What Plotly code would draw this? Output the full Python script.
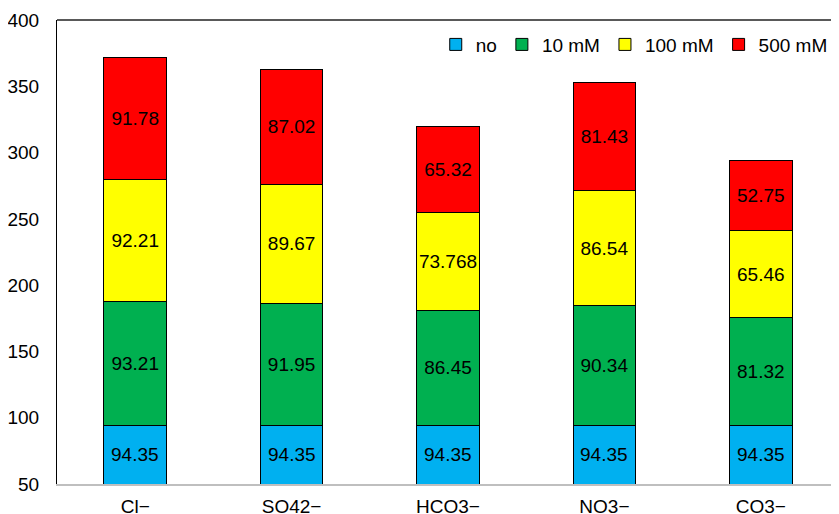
import plotly.graph_objects as go

categories = ["Cl−", "SO42−", "HCO3−", "NO3−", "CO3−"]
series_names = ["no", "10 mM", "100 mM", "500 mM"]
no_vals = [94.35, 94.35, 94.35, 94.35, 94.35]
mM10_vals = [93.21, 91.95, 86.45, 90.34, 81.32]
mM100_vals = [92.21, 89.67, 73.768, 86.54, 65.46]
mM500_vals = [91.78, 87.02, 65.32, 81.43, 52.75]
colors = ["#00B0F0", "#00B050", "#FFFF00", "#FF0000"]
y_ticks = [50, 100, 150, 200, 250, 300, 350, 400]
y_min, y_max = 50, 400

FONT = "Liberation Sans, Arial, sans-serif"
FS = 19

fig = go.Figure()
for i, (name, vals, col) in enumerate(zip(series_names, [no_vals, mM10_vals, mM100_vals, mM500_vals], colors)):
    fig.add_trace(go.Bar(
        x=categories, y=vals, name=name,
        marker=dict(color=col, line=dict(color="#000000", width=1)),
        text=[str(v) for v in vals],
        textposition="none" if i == 0 else "inside",
        insidetextanchor="middle", textangle=0,
        textfont=dict(family=FONT, size=FS, color="#000000"),
        constraintext="none",
    ))

# labels of the first segment, centred in its visible part (above the axis minimum)
for c, v in zip(categories, no_vals):
    fig.add_annotation(x=c, y=(y_min + v) / 2, text=str(v), showarrow=False,
                       font=dict(family=FONT, size=FS, color="#000000"))

# page body has an 8px margin; shrink the figure so the plot lands where the reference has it
fig.update_layout(
    barmode="stack", bargap=0.6,
    width=831, height=506,
    margin=dict(l=49, r=0, t=12, b=30),
    plot_bgcolor="white", paper_bgcolor="white",
    font=dict(family=FONT, size=FS, color="#000000"),
    showlegend=True,
    legend=dict(orientation="h", x=0.992, xanchor="right", y=0.988, yanchor="top",
                bgcolor="rgba(0,0,0,0)", font=dict(family=FONT, size=FS),
                itemwidth=30, traceorder="normal"),
)

fig.update_yaxes(range=[y_min, y_max], tickvals=y_ticks, showgrid=False, zeroline=False,
                 showline=True, linecolor="#000000", linewidth=1,
                 ticks="", ticklabelstandoff=13, automargin=False)
fig.update_xaxes(showgrid=False, showline=True, linecolor="#BFBFBF", linewidth=2,
                 ticks="", ticklabelstandoff=4, automargin=False)
fig.add_shape(type="line", xref="paper", yref="paper", x0=0, x1=1, y0=1, y1=1,
              line=dict(color="#595959", width=2))
fig.write_html("out.html")
